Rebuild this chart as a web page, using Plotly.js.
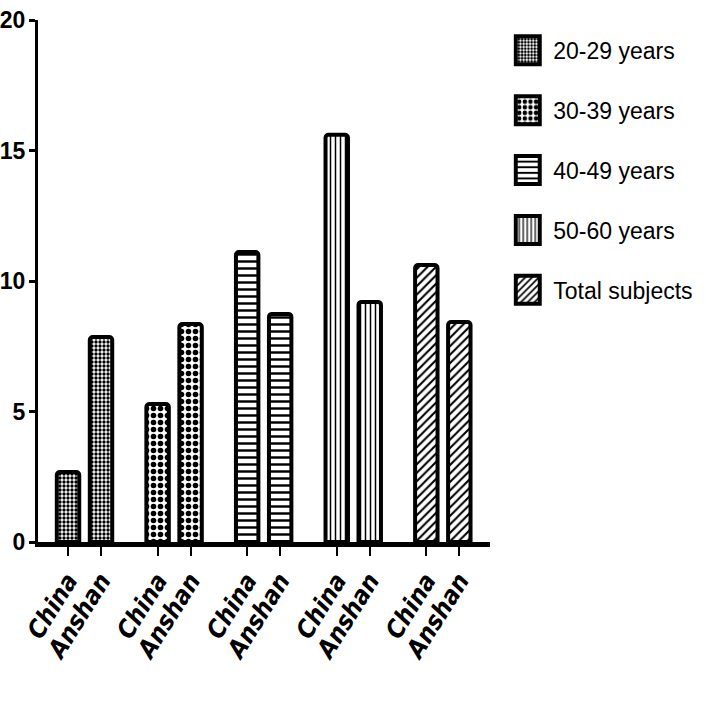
<!DOCTYPE html>
<html>
<head>
<meta charset="utf-8">
<script src="https://cdn.plot.ly/plotly-3.0.1.min.js"></script>
<style>html,body{margin:0;padding:0;background:#fff;}#chart{width:706px;height:702px;}</style>
</head>
<body>
<div id="chart"></div>
<script>
// Data
const regions = ["China", "Anshan"];
const series = ["20-29 years", "30-39 years", "40-49 years", "50-60 years", "Total subjects"];
const chinaValues  = [2.68, 5.29, 11.11, 15.6, 10.61];
const anshanValues = [7.85, 8.35, 8.74, 9.2, 8.43];
const yTicks = [0, 5, 10, 15, 20];

// Styles
const patterns = [
  {shape: ".", size: 4, solidity: 0.55},
  {shape: ".", size: 7, solidity: 0.5},
  {shape: "-", size: 7, solidity: 0.35},
  {shape: "|", size: 5, solidity: 0.3},
  {shape: "/", size: 6, solidity: 0.35}
];
const groupStep = 2.715;

const traces = series.map((name, i) => ({
  type: "bar",
  name: name,
  legendgroup: "g" + i,
  x: regions.map((r, j) => i * groupStep + j),
  y: [chinaValues[i], anshanValues[i]],
  width: 0.68,
  marker: {
    color: "white",
    cornerradius: 3,
    line: {color: "black", width: 4},
    pattern: Object.assign({fgcolor: "black", bgcolor: "white", fillmode: "replace"}, patterns[i])
  },
  hoverinfo: "y"
}));

const tickvals = [], ticktext = [];
series.forEach((s, i) => regions.forEach((r, j) => { tickvals.push(i * groupStep + j); ticktext.push(r); }));

const layout = {
  width: 706, height: 702,
  margin: {l: 38, r: 216, t: 20, b: 160},
  paper_bgcolor: "white", plot_bgcolor: "white",
  showlegend: true,
  legend: {
    xref: "container", yref: "container",
    x: 0.727, y: 0.959, xanchor: "left", yanchor: "top",
    font: {family: "Liberation Sans, Arial, sans-serif", size: 23, color: "black"},
    traceorder: "grouped", tracegroupgap: 27,
    itemwidth: 30
  },
  xaxis: {
    range: [-0.91, 12.79],
    tickvals: tickvals, ticktext: ticktext,
    tickangle: -58,
    showline: true, linewidth: 5, linecolor: "black",
    ticks: "outside", ticklen: 9, tickwidth: 2, tickcolor: "black",
    showgrid: false, zeroline: false,
    tickfont: {family: "DejaVu Sans Condensed, Liberation Sans, sans-serif", size: 25, color: "black", weight: "bold", style: "italic"}
  },
  yaxis: {
    range: [0, 20],
    tickvals: yTicks,
    showline: true, linewidth: 3, linecolor: "black",
    ticks: "outside", ticklen: 6, tickwidth: 3, tickcolor: "black",
    showgrid: false, zeroline: false,
    ticklabelstandoff: -1,
    tickfont: {family: "Liberation Sans, Arial, sans-serif", size: 23, color: "black", weight: "bold"}
  },
  bargap: 0
};

Plotly.newPlot("chart", traces, layout, {displayModeBar: false, staticPlot: true}).then(gd => {
  // enlarge the legend's square symbols
  gd.querySelectorAll(".legend .legendpoints path").forEach(p => {
    p.setAttribute("d", "M6.5,14H-17.5V-14H6.5Z");
    p.style.strokeWidth = "4px";
  });
});
</script>
</body>
</html>
